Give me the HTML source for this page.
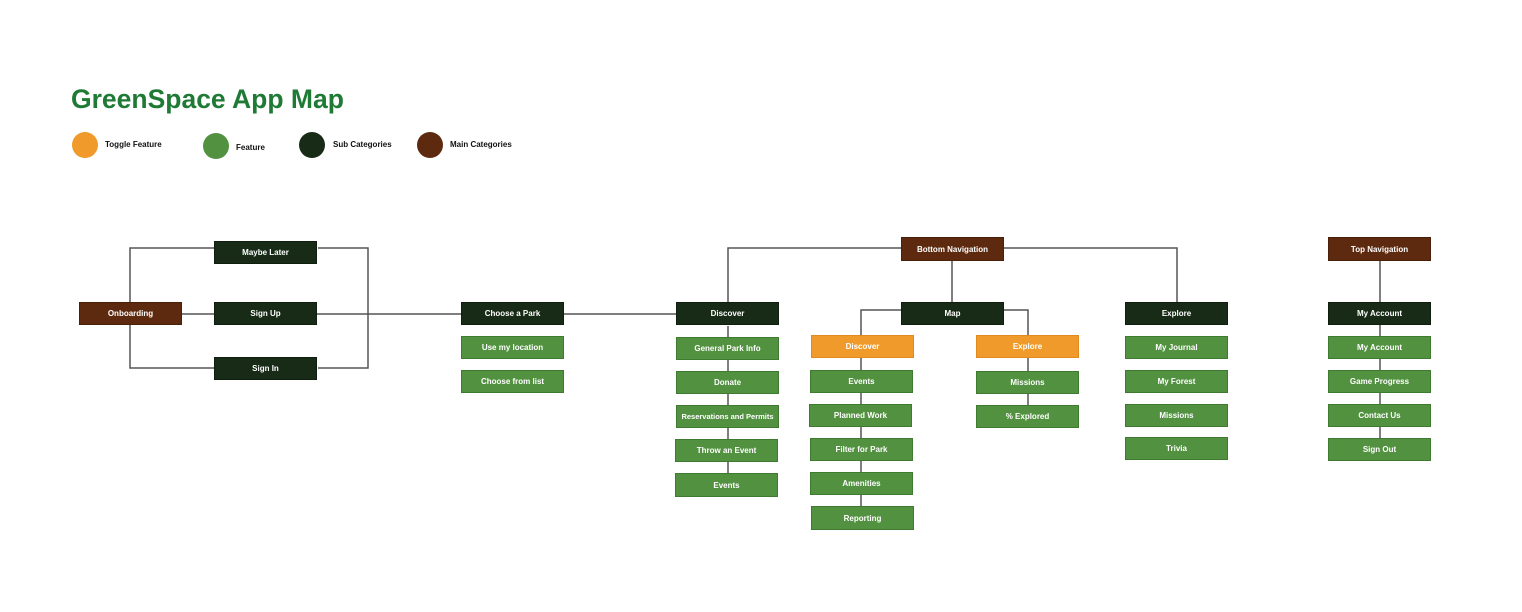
<!DOCTYPE html>
<html><head><meta charset="utf-8"><style>
body{margin:0;width:1522px;height:612px;background:#fff;position:relative;overflow:hidden;font-family:"Liberation Sans",sans-serif}
.b{position:absolute;width:103px;height:23px;color:#fff;font-size:8px;font-weight:bold;display:flex;align-items:center;justify-content:center;box-sizing:border-box;white-space:nowrap}
.m{background:#5e2a0f;border:1px solid #4a200a}
.s{background:#172b16;border:1px solid #0f1e0e}
.f{background:#529140;border:1px solid #3f7a31}
.t{background:#ef9a2a;border:1px solid #e08a20}
.c{position:absolute;width:26px;height:26px;border-radius:50%}
.l{position:absolute;font-size:8px;font-weight:bold;color:#111}
svg{position:absolute;left:0;top:0}
</style></head><body>
<div style="position:absolute;left:71px;top:84px;font-size:26.5px;font-weight:bold;color:#1e7a35">GreenSpace App Map</div>
<div class="c" style="left:72px;top:132px;background:#ef9a2a"></div><div class="l" style="left:105px;top:140px">Toggle Feature</div>
<div class="c" style="left:203px;top:133px;background:#529140"></div><div class="l" style="left:236px;top:143px">Feature</div>
<div class="c" style="left:299px;top:132px;background:#172b16"></div><div class="l" style="left:333px;top:140px">Sub Categories</div>
<div class="c" style="left:417px;top:132px;background:#5e2a0f"></div><div class="l" style="left:450px;top:140px">Main Categories</div>
<svg width="1522" height="612" fill="none" stroke="#555" stroke-width="1.5">
<path d="M214 248H130V368H214M318 248H368V368H318M182 314H676"/>
<path d="M728 302V248H1177V302M952 261V302M901 310H861V335M1004 310H1028V335"/>
<path d="M728 326V497M861 358V506M1028 358V405M1380 261V302M1380 325V440"/>
</svg>
<div class="b m" style="left:79px;top:302px">Onboarding</div>
<div class="b s" style="left:214px;top:241px">Maybe Later</div>
<div class="b s" style="left:214px;top:302px">Sign Up</div>
<div class="b s" style="left:214px;top:357px">Sign In</div>
<div class="b s" style="left:461px;top:302px">Choose a Park</div>
<div class="b f" style="left:461px;top:336px">Use my location</div>
<div class="b f" style="left:461px;top:370px">Choose from list</div>
<div class="b m" style="left:901px;top:237px;height:24px">Bottom Navigation</div>
<div class="b s" style="left:676px;top:302px">Discover</div>
<div class="b f" style="left:676px;top:337px">General Park Info</div>
<div class="b f" style="left:676px;top:371px">Donate</div>
<div class="b f" style="left:676px;top:405px;font-size:7.5px">Reservations and Permits</div>
<div class="b f" style="left:675px;top:439px">Throw an Event</div>
<div class="b f" style="left:675px;top:473px;height:24px">Events</div>
<div class="b s" style="left:901px;top:302px">Map</div>
<div class="b t" style="left:811px;top:335px">Discover</div>
<div class="b f" style="left:810px;top:370px">Events</div>
<div class="b f" style="left:809px;top:404px">Planned Work</div>
<div class="b f" style="left:810px;top:438px">Filter for Park</div>
<div class="b f" style="left:810px;top:472px">Amenities</div>
<div class="b f" style="left:811px;top:506px;height:24px">Reporting</div>
<div class="b t" style="left:976px;top:335px">Explore</div>
<div class="b f" style="left:976px;top:371px">Missions</div>
<div class="b f" style="left:976px;top:405px">% Explored</div>
<div class="b s" style="left:1125px;top:302px">Explore</div>
<div class="b f" style="left:1125px;top:336px">My Journal</div>
<div class="b f" style="left:1125px;top:370px">My Forest</div>
<div class="b f" style="left:1125px;top:404px">Missions</div>
<div class="b f" style="left:1125px;top:437px">Trivia</div>
<div class="b m" style="left:1328px;top:237px;height:24px">Top Navigation</div>
<div class="b s" style="left:1328px;top:302px">My Account</div>
<div class="b f" style="left:1328px;top:336px">My Account</div>
<div class="b f" style="left:1328px;top:370px">Game Progress</div>
<div class="b f" style="left:1328px;top:404px">Contact Us</div>
<div class="b f" style="left:1328px;top:438px">Sign Out</div>
</body></html>
